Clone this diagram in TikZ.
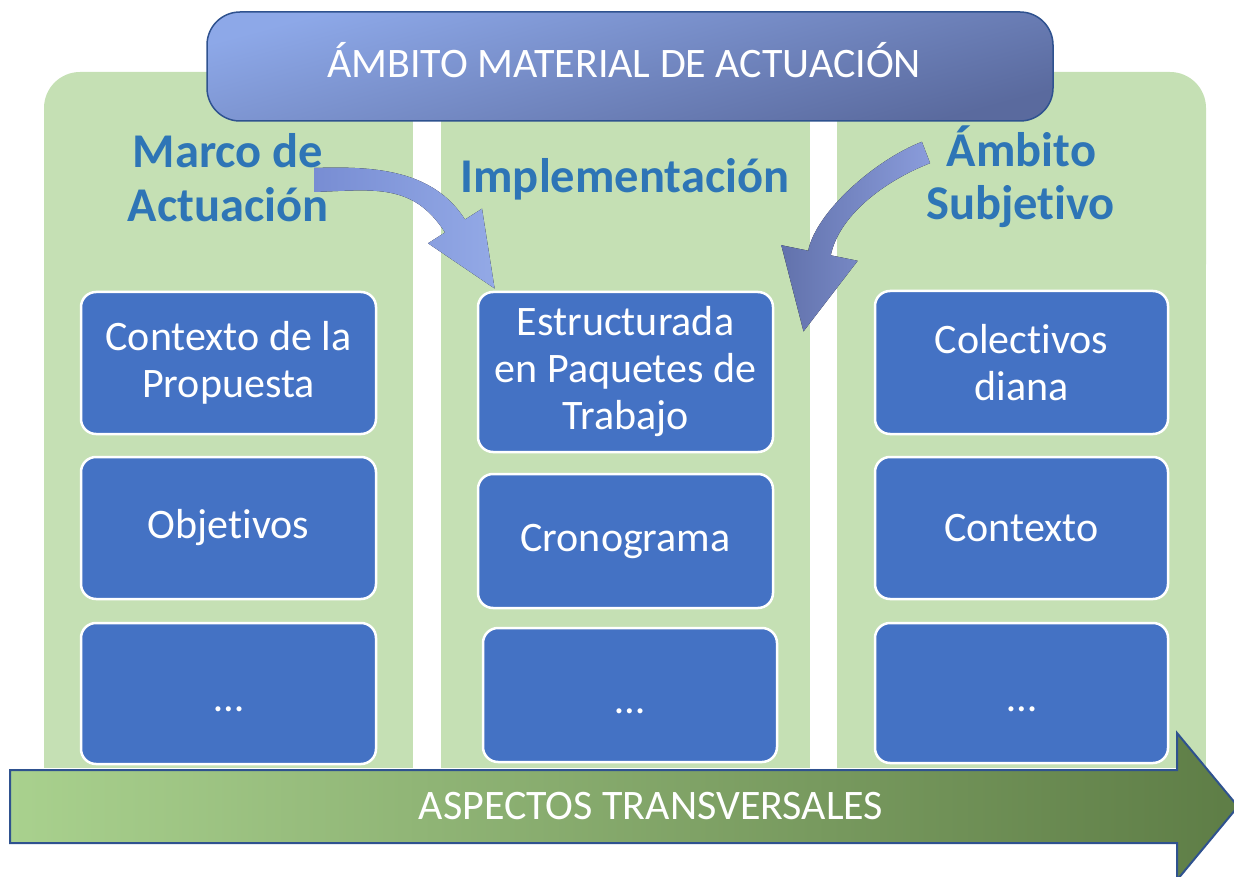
\documentclass[tikz,border=0pt]{standalone}
\usepackage{fontspec}
\setmainfont[Ligatures=NoCommon]{Carlito}
\definecolor{colgreen}{HTML}{C5E0B4}
\definecolor{boxblue}{HTML}{4472C4}
\definecolor{headblue}{HTML}{2E75B6}
\definecolor{edgeblue}{HTML}{2F528F}
\definecolor{bantop}{HTML}{8DA8E8}
\definecolor{banbot}{HTML}{5A6A9E}
\definecolor{arlight}{HTML}{A9D18E}
\definecolor{ardark}{HTML}{5E7D46}
\definecolor{cvAleft}{HTML}{788DD3}
\definecolor{cvAright}{HTML}{93A9E6}
\definecolor{cvBleft}{HTML}{6272AC}
\definecolor{cvBright}{HTML}{8A9CDB}
\begin{document}
\begin{tikzpicture}[x=1pt,y=-1pt,
  bbox/.style={draw=white, line width=2.5pt, fill=boxblue, rounded corners=15pt,
    text=white, align=center, font=\fontsize{42}{47}\selectfont,
    minimum width=295pt, inner sep=0pt},
  headtxt/.style={text=headblue, font=\fontsize{48.5}{54}\selectfont\bfseries,
    anchor=base, inner sep=0pt},
  whitetxt/.style={text=white, font=\fontsize{42}{47}\selectfont, anchor=base, inner sep=0pt},
]
\useasboundingbox (0,0) rectangle (1234,877);
\clip (0,0) rectangle (1234,877);

% green columns
\fill[colgreen, rounded corners=36pt] (44,72) rectangle (1206,300);
\fill[colgreen] (44,150) rectangle (1206,768);
\fill[white] (413,72) rectangle (441,768);
\fill[white] (810,72) rectangle (837,768);

% banner
\node[draw=edgeblue, line width=1.5pt, rounded corners=33pt,
      top color=bantop, bottom color=banbot, shading angle=15,
      minimum width=846pt, minimum height=109pt, inner sep=0pt]
      (banner) at (630,66.5) {};
\node[whitetxt] (bannertext) at (624,78) {ÁMBITO MATERIAL DE ACTUACIÓN};

% headings
\node[headtxt] (marco1) at (228,168) {Marco de};
\node[headtxt] (marco2) at (228,222) {Actuación};
\node[headtxt] (impl) at (625,193) {Implementación};
\node[headtxt] (ambito1) at (1021.5,167) {Ámbito};
\node[headtxt] (ambito2) at (1020.5,220) {Subjetivo};

% curved arrows
\fill[left color=cvAleft, right color=cvAright]
  (314,168) .. controls (374,166) and (433,169.5) .. (465,219.5)
  -- (482,208.7) -- (494.6,288.5) -- (428,243.3) -- (445,232.5)
  .. controls (413,182.5) and (374,190) .. (314,192) -- cycle;
\fill[left color=cvBleft, right color=cvBright]
  (921.9,141.8) .. controls (875.4,159.8) and (816.2,211.5) .. (808.2,250.7)
  -- (781.3,245.2) -- (803.5,331.4) -- (857.7,260.8) -- (830.8,255.3)
  .. controls (838.8,216.1) and (883.6,181.2) .. (930.1,163.2) -- cycle;

% boxes
\node[bbox, minimum height=142pt] (l1) at (228.5,363) {Contexto de la\\Propuesta};
\node[bbox, minimum height=142pt] (l2) at (228.5,528) {Objetivos};
\node[bbox, minimum height=141pt] (l3) at (228.5,693.5) {\strut\raisebox{-9pt}{…}};
\node[bbox, minimum height=160pt] (m1) at (625.5,372) {Estructurada\\en Paquetes de\\Trabajo};
\node[bbox, minimum height=134pt] (m2) at (625.5,541) {Cronograma};
\node[bbox, minimum height=134pt, minimum width=294pt] (m3) at (630,695) {\strut\raisebox{-9pt}{…}};
\node[bbox, minimum height=143pt, minimum width=293pt] (r1) at (1021.5,362.5) {Colectivos\\diana};
\node[bbox, minimum height=142pt, minimum width=293pt] (r2) at (1021.5,528) {Contexto};
\node[bbox, minimum height=140pt, minimum width=293pt] (r3) at (1021.5,693) {\strut\raisebox{-9pt}{…}};

% bottom arrow
\filldraw[draw=edgeblue, line width=2pt, left color=arlight, right color=ardark]
  (10,770) -- (1177,770) -- (1177,733) -- (1238,806.5) -- (1177,880)
  -- (1177,843) -- (10,843) -- cycle;
\node[whitetxt] (aspectos) at (651,819) {ASPECTOS TRANSVERSALES};
\end{tikzpicture}
\end{document}
